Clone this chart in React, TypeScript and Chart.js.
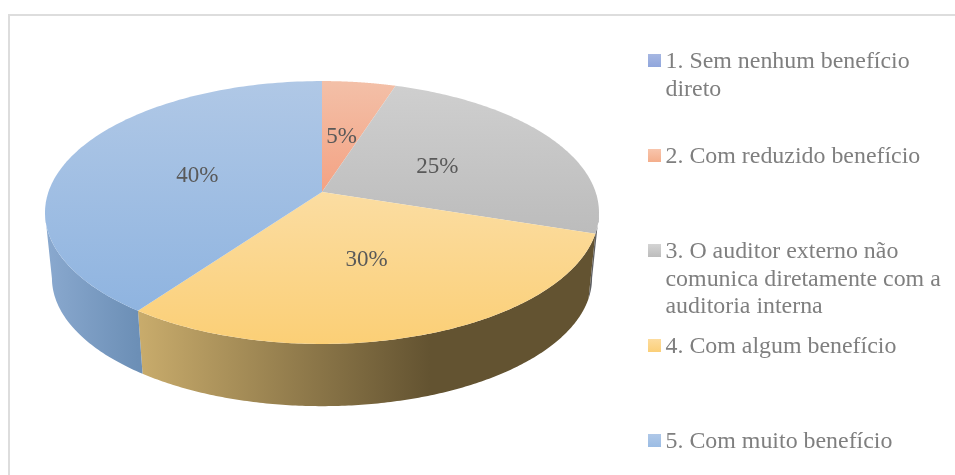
import React, { useEffect, useRef } from "react";
import { Chart, registerables } from "chart.js";

Chart.register(...registerables);

const categories = [
  "1. Sem nenhum benefício direto",
  "2. Com reduzido benefício",
  "3. O auditor externo não comunica diretamente com a auditoria interna",
  "4. Com algum benefício",
  "5. Com muito benefício",
];
const legendLines = [
  ["1. Sem nenhum benefício", "direto"],
  ["2. Com reduzido benefício"],
  ["3. O auditor externo não", "comunica diretamente com a", "auditoria interna"],
  ["4. Com algum benefício"],
  ["5. Com muito benefício"],
];
const values = [0, 5, 25, 30, 40];
const percentLabels = ["0%", "5%", "25%", "30%", "40%"];
const topLight = ["#A5B6E0", "#F3C0A8", "#CFCFCF", "#FBDDA2", "#B0C8E6"];
const topDark = ["#8FA5DA", "#F4A283", "#BCBCBC", "#FBCF76", "#8FB4E0"];
const wallLeft = ["#6F83B0", "#8F6A55", "#5F6063", "#C9AC6C", "#8AA9CF"];
const wallRight = ["#4D5C80", "#7A5A48", "#4A4B50", "#635331", "#6C8FB6"];
const swatchTop = ["#A6B7E2", "#F8C5AC", "#D4D4D4", "#FDDC9E", "#AFC8E8"];
const swatchBottom = ["#90A6DC", "#F4AE8C", "#BCBCBC", "#FBCF78", "#9BBCE4"];

const FONT = '"Liberation Serif", "Times New Roman", serif';
const X_SCALE = 1.425;
const Y_SCALE = 0.668;
const K = 0.156;
const BASE_SCALE = 0.975;
const BASE_SHIFT = 66;

function project(el: any, angle: number, r: number, base: boolean) {
  const u = Math.cos(angle) * r;
  const v = Math.sin(angle) * r;
  const w = 1 - K * v;
  const R = el.outerRadius;
  const s = base ? BASE_SCALE : 1;
  return {
    x: el.x + (s * X_SCALE * R * u) / w,
    y: el.y + (s * Y_SCALE * R * v) / w + (base ? BASE_SHIFT : 0),
  };
}

function sweep(el: any, n: number) {
  const out: number[] = [];
  for (let k = 0; k <= n; k++) out.push(el.startAngle + ((el.endAngle - el.startAngle) * k) / n);
  return out;
}

const pie3d = {
  id: "pie3d",
  beforeDatasetsDraw(chart: any) {
    const ctx = chart.ctx as CanvasRenderingContext2D;
    const arcs = chart.getDatasetMeta(0).data;
    ctx.save();
    arcs.forEach((el: any, i: number) => {
      if (values[i] <= 0) return;
      const front = sweep(el, 180).filter((a) => Math.sin(a) >= K);
      if (!front.length) return;
      const xs = front.map((a) => project(el, a, 1, false).x);
      const x0 = Math.min(...xs);
      const x1 = i === 3 ? 430 : Math.max(...xs);
      const grad = ctx.createLinearGradient(x0, 0, x1, 0);
      grad.addColorStop(0, wallLeft[i]);
      grad.addColorStop(1, wallRight[i]);
      ctx.beginPath();
      front.forEach((a, k) => {
        const p = project(el, a, 1, false);
        if (k === 0) ctx.moveTo(p.x, p.y);
        else ctx.lineTo(p.x, p.y);
      });
      [...front].reverse().forEach((a) => {
        const p = project(el, a, 1, true);
        ctx.lineTo(p.x, p.y);
      });
      ctx.closePath();
      ctx.fillStyle = grad;
      ctx.fill();
    });
    arcs.forEach((el: any, i: number) => {
      if (values[i] <= 0) return;
      const rim = sweep(el, 120).map((a) => project(el, a, 1, false));
      const ys = [el.y, ...rim.map((p) => p.y)];
      const grad = ctx.createLinearGradient(0, Math.min(...ys), 0, Math.max(...ys));
      grad.addColorStop(0, topLight[i]);
      grad.addColorStop(1, topDark[i]);
      ctx.beginPath();
      ctx.moveTo(el.x, el.y);
      rim.forEach((p) => ctx.lineTo(p.x, p.y));
      ctx.closePath();
      ctx.fillStyle = grad;
      ctx.fill();
    });
    ctx.font = `23px ${FONT}`;
    ctx.fillStyle = "#595959";
    ctx.textAlign = "center";
    ctx.textBaseline = "middle";
    arcs.forEach((el: any, i: number) => {
      if (values[i] <= 0) return;
      const p = project(el, (el.startAngle + el.endAngle) / 2, 0.49, false);
      ctx.fillText(percentLabels[i], p.x, p.y + 3);
    });
    ctx.restore();
    return false;
  },
  afterDraw(chart: any) {
    const ctx = chart.ctx as CanvasRenderingContext2D;
    ctx.save();
    ctx.strokeStyle = "#DDDDDD";
    ctx.lineWidth = 2;
    ctx.strokeRect(9, 15, 1000, 1000);
    ctx.font = `23.9px ${FONT}`;
    ctx.textAlign = "left";
    ctx.textBaseline = "alphabetic";
    legendLines.forEach((lines, i) => {
      const top = 54 + 95 * i;
      const g = ctx.createLinearGradient(0, top, 0, top + 13);
      g.addColorStop(0, swatchTop[i]);
      g.addColorStop(1, swatchBottom[i]);
      ctx.fillStyle = g;
      ctx.fillRect(648, top, 13, 13);
      ctx.fillStyle = "#7F7F7F";
      lines.forEach((line, k) => ctx.fillText(line, 665.5, top + 14 + k * 27.6));
    });
    ctx.restore();
  },
};

export default function App() {
  const ref = useRef<HTMLCanvasElement>(null);
  useEffect(() => {
    document.body.style.margin = "0";
    const chart = new Chart(ref.current!, {
      type: "pie",
      data: { labels: categories, datasets: [{ data: values, backgroundColor: topDark, borderWidth: 0 }] },
      options: {
        responsive: false,
        animation: false,
        events: [],
        layout: { padding: { left: 45, right: 356, top: 0, bottom: 91 } },
        plugins: { legend: { display: false }, tooltip: { enabled: false } },
      },
      plugins: [pie3d],
    } as any);
    return () => chart.destroy();
  }, []);
  return <canvas ref={ref} width={955} height={475} style={{ display: "block" }} />;
}
